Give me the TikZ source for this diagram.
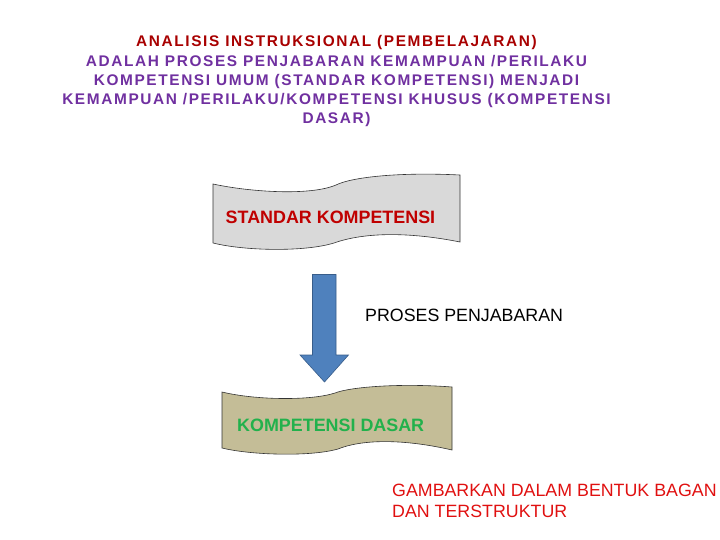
\documentclass[tikz,border=0pt]{standalone}
\usepackage{fontspec}
\setmainfont{Liberation Sans}
\newfontfamily\titlefont[LetterSpace=10.5]{Liberation Sans}
\definecolor{titlered}{HTML}{A80000}
\definecolor{titlepurple}{HTML}{7030A0}
\definecolor{skred}{HTML}{C00000}
\definecolor{kdgreen}{HTML}{22B14C}
\definecolor{noteRed}{HTML}{E01010}
\definecolor{skfill}{HTML}{D9D9D9}
\definecolor{kdfill}{HTML}{C4BD97}
\definecolor{arrowfill}{HTML}{4F81BD}
\definecolor{arrowline}{HTML}{385D8A}
\tikzset{
  banner/.style={draw=black!80, line width=0.6pt},
  titleline/.style={inner sep=0pt, anchor=base, font=\titlefont\bfseries\fontsize{15.4}{19}\selectfont},
  bodytext/.style={inner sep=0pt, anchor=base west, font=\fontsize{17.8}{22}\selectfont},
}
\begin{document}
\begin{tikzpicture}[x=1pt, y=-1pt]
\useasboundingbox (0,0) rectangle (720,540);
% title
\node[titleline, text=titlered] (t1) at (336.5,47) {ANALISIS INSTRUKSIONAL (PEMBELAJARAN)};
\node[titleline, text=titlepurple] (t2) at (336.5,66.5) {ADALAH PROSES PENJABARAN KEMAMPUAN /PERILAKU};
\node[titleline, text=titlepurple] (t3) at (336.5,86) {KOMPETENSI UMUM (STANDAR KOMPETENSI) MENJADI};
\node[titleline, text=titlepurple] (t4) at (336.5,105) {KEMAMPUAN /PERILAKU/KOMPETENSI KHUSUS (KOMPETENSI};
\node[titleline, text=titlepurple] (t5) at (336.5,124) {DASAR)};
% standar kompetensi banner
\draw[banner, fill=skfill] (213,184) .. controls (250,192) and (310,196) .. (336,185)
  .. controls (352,177) and (400,172) .. (460,175) -- (460,242)
  .. controls (410,232) and (365,232) .. (334,243)
  .. controls (305,252) and (245,251) .. (213,243) -- cycle;
\node[bodytext, font=\bfseries\fontsize{17.9}{22}\selectfont, text=skred] (sk) at (225.5,223) {STANDAR KOMPETENSI};
% block arrow
\draw[draw=arrowline, line width=0.6pt, fill=arrowfill] (312.5,274.5) -- (336,274.5) -- (336,355) -- (348.5,355)
  -- (324.5,382) -- (300,355) -- (312.5,355) -- cycle;
\node[bodytext] (pp) at (365,321) {PROSES PENJABARAN};
% kompetensi dasar banner
\draw[banner, fill=kdfill] (222,392) .. controls (255,400) and (310,401) .. (335,393)
  .. controls (350,387) and (400,383) .. (452,387) -- (452,450)
  .. controls (400,438) and (360,440) .. (338,449)
  .. controls (310,457) and (250,455) .. (222,448) -- cycle;
\node[bodytext, font=\bfseries\fontsize{17.9}{22}\selectfont, text=kdgreen] (kd) at (237,431) {KOMPETENSI DASAR};
% note
\node[bodytext, text=noteRed] (note) at (392,496) {GAMBARKAN DALAM BENTUK BAGAN};
\node[bodytext, text=noteRed] (note2) at (392,517) {DAN TERSTRUKTUR};
\end{tikzpicture}
\end{document}
